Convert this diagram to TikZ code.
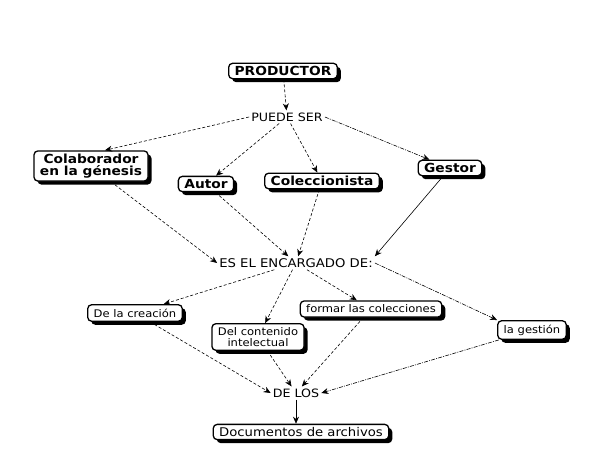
\documentclass[tikz,border=0pt]{standalone}
\usepackage{fontspec}
\setmainfont{DejaVu Sans}[FakeStretch=1.1]
\usetikzlibrary{shadows,arrows.meta}

\tikzset{
  concept/.style={draw,line width=1.3pt,rounded corners=4pt,fill=white,
    inner xsep=6pt,inner ysep=3pt,align=center,
    font=\bfseries\fontsize{12.5}{13}\selectfont,
    drop shadow={shadow xshift=3.5pt,shadow yshift=-3.5pt,fill=black,opacity=1}},
  leaf/.style={concept,font=\fontsize{10.5}{11.5}\selectfont,inner ysep=4pt},
  phrase/.style={font=\fontsize{11.5}{12}\selectfont,inner sep=2pt},
  link/.style={-{Stealth[length=7pt,width=6pt]},densely dashed,semithick},
  dashdot/.style={link,dash pattern=on 4pt off 1.2pt on 1pt off 1.2pt},
  plain/.style={-{Stealth[length=7pt,width=6pt]},semithick},
}

\begin{document}
\begin{tikzpicture}[x=1pt,y=-1pt]
  \useasboundingbox (0,0) rectangle (589,460);
  % top level
  \node[concept] (prod) at (283,71) {PRODUCTOR};
  \node[phrase] (puede) at (287,117) {PUEDE SER};
  \node[concept] (colab) at (91,166) {Colaborador\\[-1pt]en la génesis};
  \node[concept] (autor) at (206,184) {Autor};
  \node[concept] (colec) at (322,181) {Coleccionista};
  \node[concept] (gestor) at (450,168) {Gestor};
  \node[phrase,font=\fontsize{12}{13}\selectfont] (encar) at (296,263) {ES EL ENCARGADO DE:};
  % second level
  \node[leaf] (crea) at (135,313) {De la creación};
  \node[leaf] (conte) at (258,337) {Del contenido\\[-1pt]intelectual};
  \node[leaf] (formar) at (371,309) {formar las colecciones};
  \node[leaf] (gestion) at (532,330) {la gestión};
  \node[phrase] (delos) at (296,393) {DE LOS};
  \node[leaf,font=\fontsize{12}{13}\selectfont,inner ysep=3pt] (docs) at (301,432) {Documentos de archivos};
  % links
  \draw[link] (prod) -- (puede);
  \draw[link] (puede.west) -- ([xshift=14pt]colab.north);
  \draw[link] (puede) -- (autor);
  \draw[link] (puede) -- (colec);
  \draw[dashdot] (puede.east) -- (gestor);
  \draw[link] ([xshift=20pt]colab.south) -- (encar.west);
  \draw[link] (autor) -- (encar);
  \draw[link] (colec) -- (encar);
  \draw[plain] (gestor) -- (encar.north east);
  \draw[link] (encar) -- (crea);
  \draw[link] (encar) -- (conte);
  \draw[link] (encar) -- (formar);
  \draw[dashdot] (encar.east) -- (gestion.north west);
  \draw[link] (crea) -- (delos.west);
  \draw[link] (conte) -- (delos);
  \draw[link] (formar) -- (delos);
  \draw[dashdot] (gestion) -- (delos.east);
  \draw[plain] (delos.south) -- (delos.south |- docs.north);
\end{tikzpicture}
\end{document}
